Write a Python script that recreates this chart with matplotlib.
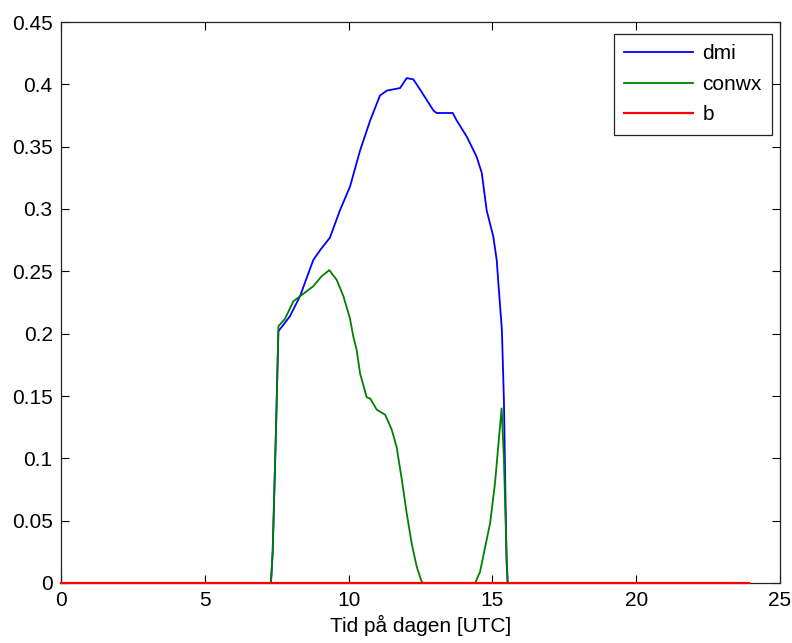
"""Recreate the dmi / conwx / b daily profile figure (MATLAB-style)."""
import matplotlib
matplotlib.use("Agg")
import matplotlib.pyplot as plt

# values (hours UTC, fraction)
dmi_t = [0.0, 7.30, 7.36, 7.42, 7.48, 7.56, 7.96, 8.31, 8.77, 9.01, 9.35, 9.70,
         10.05, 10.40, 10.75, 11.09, 11.33, 11.79, 12.02, 12.25, 12.48, 12.95,
         13.06, 13.62, 13.76, 14.11, 14.45, 14.63, 14.80, 15.03, 15.15, 15.20,
         15.33, 15.40, 15.44, 15.49, 15.53, 23.92]
dmi_v = [0.0, 0.0, 0.025, 0.076, 0.127, 0.202, 0.214, 0.230, 0.259, 0.267, 0.277,
         0.299, 0.318, 0.347, 0.371, 0.391, 0.395, 0.397, 0.405, 0.404, 0.396,
         0.379, 0.377, 0.377, 0.371, 0.358, 0.342, 0.329, 0.299, 0.278, 0.259,
         0.243, 0.203, 0.147, 0.090, 0.018, 0.0, 0.0]

conwx_t = [0.0, 7.30, 7.36, 7.42, 7.48, 7.56, 7.79, 8.08, 8.31, 8.77, 9.06, 9.33,
           9.59, 9.82, 10.05, 10.16, 10.28, 10.40, 10.63, 10.75, 10.98, 11.27,
           11.50, 11.67, 11.85, 12.02, 12.19, 12.37, 12.54, 12.60, 14.40, 14.57,
           14.92, 15.09, 15.32, 15.40, 15.47, 15.53, 23.92]
conwx_v = [0.0, 0.0, 0.025, 0.076, 0.127, 0.206, 0.212, 0.226, 0.230, 0.238,
           0.246, 0.251, 0.243, 0.230, 0.212, 0.198, 0.187, 0.168, 0.149, 0.148,
           0.139, 0.135, 0.123, 0.109, 0.083, 0.056, 0.032, 0.013, 0.001, 0.0,
           0.0, 0.009, 0.048, 0.080, 0.140, 0.100, 0.040, 0.0, 0.0]

b_t = [0.0, 23.92]
b_v = [0.0, 0.0]

x_ticks = [0, 5, 10, 15, 20, 25]
y_ticks = [0, 0.05, 0.1, 0.15, 0.2, 0.25, 0.3, 0.35, 0.4, 0.45]
y_labels = ["0", "0.05", "0.1", "0.15", "0.2", "0.25", "0.3", "0.35", "0.4", "0.45"]

plt.rcParams["font.family"] = ["Liberation Sans", "DejaVu Sans"]
FS = 15

fig = plt.figure(figsize=(7.92, 6.43), dpi=100)
ax = fig.add_axes([61 / 792, 60 / 643, 719 / 792, 561 / 643])

ax.plot(dmi_t, dmi_v, color=(0, 0, 1), lw=1.3, label="dmi", zorder=2)
ax.plot(conwx_t, conwx_v, color=(0, 0.5, 0), lw=1.3, label="conwx", zorder=3)
ax.plot(b_t, b_v, color=(1, 0, 0), lw=1.6, label="b", zorder=4, clip_on=False)

ax.set_xlim(0, 25)
ax.set_ylim(0, 0.45)
ax.set_xticks(x_ticks)
ax.set_xticklabels([str(t) for t in x_ticks])
ax.set_yticks(y_ticks)
ax.set_yticklabels(y_labels)
ax.tick_params(direction="in", length=5.5, width=0.8, top=True, right=True,
               labelsize=FS, pad=6)
for s in ax.spines.values():
    s.set_linewidth(0.9)
    s.set_color("#222222")

ax.set_xlabel("Tid på dagen [UTC]", fontsize=FS, labelpad=3)

leg = ax.legend(loc="upper right", bbox_to_anchor=(0.989, 0.9786),
                borderaxespad=0, fontsize=FS, fancybox=False, framealpha=1,
                edgecolor="#222222", handlelength=3.3, handletextpad=0.45,
                labelspacing=0.55, borderpad=0.5)
leg.get_frame().set_linewidth(0.9)

fig.savefig("out.png", dpi=100)
